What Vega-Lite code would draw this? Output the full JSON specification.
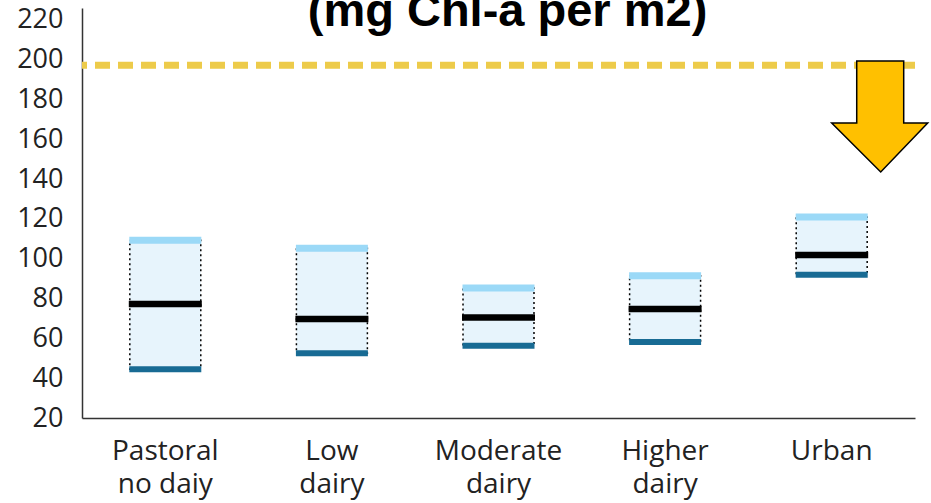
{
  "$schema": "https://vega.github.io/schema/vega-lite/v6.json",
  "width": 833,
  "height": 410,
  "autosize": "none",
  "padding": {"left": 82, "top": 8, "right": 16, "bottom": 85},
  "config": {"view": {"stroke": null}, "font": "Open Sans"},
  "datasets": {
    "boxes": [
      {"category": "Pastoral no daiy", "q1": 44.5, "median": 77.3, "q3": 109.3},
      {"category": "Low dairy", "q1": 52.5, "median": 69.7, "q3": 105.3},
      {"category": "Moderate dairy", "q1": 56.3, "median": 70.5, "q3": 85.3},
      {"category": "Higher dairy", "q1": 58.2, "median": 74.8, "q3": 91.5},
      {"category": "Urban", "q1": 92, "median": 101.9, "q3": 121}
    ],
    "threshold": [{"value": 197.2}],
    "arrow": [{"category": "Urban", "value": 171.5}],
    "title": [{"label": "(mg Chl-a per m2)", "value": 216.95}]
  },
  "layer": [
    {
      "data": {"name": "threshold"},
      "mark": {"type": "rule", "color": "#EDCB4A", "strokeWidth": 7, "strokeDash": [15, 8]},
      "encoding": {"y": {"field": "value", "type": "quantitative"}}
    },
    {
      "data": {"name": "boxes"},
      "mark": {"type": "bar", "fill": "#E7F4FC", "stroke": "#000000", "strokeWidth": 1.5, "strokeDash": [2, 3]},
      "encoding": {
        "x": {
          "field": "category", "type": "nominal", "sort": null,
          "scale": {"paddingInner": 0.574, "paddingOuter": 0.287},
          "axis": {
            "title": null, "ticks": false, "tickSize": 0, "labelAngle": 0,
            "labelFont": "Open Sans", "labelFontSize": 28, "labelColor": "#222222",
            "labelPadding": 19, "labelLineHeight": 33,
            "labelExpr": "datum.label == 'Pastoral no daiy' ? ['Pastoral', 'no daiy'] : split(datum.label, ' ')",
            "domainColor": "#333333", "domainWidth": 1.5
          }
        },
        "y": {
          "field": "q1", "type": "quantitative",
          "scale": {"domain": [20, 226], "nice": false, "zero": false},
          "axis": {
            "title": null, "values": [20, 40, 60, 80, 100, 120, 140, 160, 180, 200, 220],
            "grid": false, "ticks": false, "tickSize": 0,
            "labelFont": "Open Sans", "labelFontSize": 27, "labelColor": "#222222",
            "labelPadding": 19, "domainColor": "#333333", "domainWidth": 1.5
          }
        },
        "y2": {"field": "q3"}
      }
    },
    {
      "data": {"name": "boxes"},
      "mark": {"type": "tick", "color": "#9BD9F7", "thickness": 7, "size": 72, "opacity": 1},
      "encoding": {
        "x": {"field": "category", "type": "nominal", "sort": null},
        "y": {"field": "q3", "type": "quantitative"}
      }
    },
    {
      "data": {"name": "boxes"},
      "mark": {"type": "tick", "color": "#186B94", "thickness": 6, "size": 72, "opacity": 1},
      "encoding": {
        "x": {"field": "category", "type": "nominal", "sort": null},
        "y": {"field": "q1", "type": "quantitative"}
      }
    },
    {
      "data": {"name": "boxes"},
      "mark": {"type": "tick", "color": "#000000", "thickness": 6.5, "size": 73, "opacity": 1},
      "encoding": {
        "x": {"field": "category", "type": "nominal", "sort": null},
        "y": {"field": "median", "type": "quantitative"}
      }
    },
    {
      "data": {"name": "arrow"},
      "mark": {
        "type": "point",
        "shape": "M 0.417 -0.925 L 1.2 -0.925 L 1.2 0.108 L 1.6 0.108 L 0.817 0.925 L 0 0.108 L 0.417 0.108 Z",
        "size": 14400, "filled": true, "fill": "#FFC000", "stroke": "#000000", "strokeWidth": 1.5, "opacity": 1
      },
      "encoding": {
        "x": {"field": "category", "type": "nominal", "sort": null},
        "y": {"field": "value", "type": "quantitative"}
      }
    },
    {
      "data": {"name": "title"},
      "mark": {
        "type": "text", "font": "Liberation Sans", "fontWeight": "bold",
        "fontSize": 47, "align": "center", "baseline": "alphabetic", "dx": 9, "color": "#000000"
      },
      "encoding": {
        "y": {"field": "value", "type": "quantitative"},
        "text": {"field": "label", "type": "nominal"}
      }
    }
  ]
}
